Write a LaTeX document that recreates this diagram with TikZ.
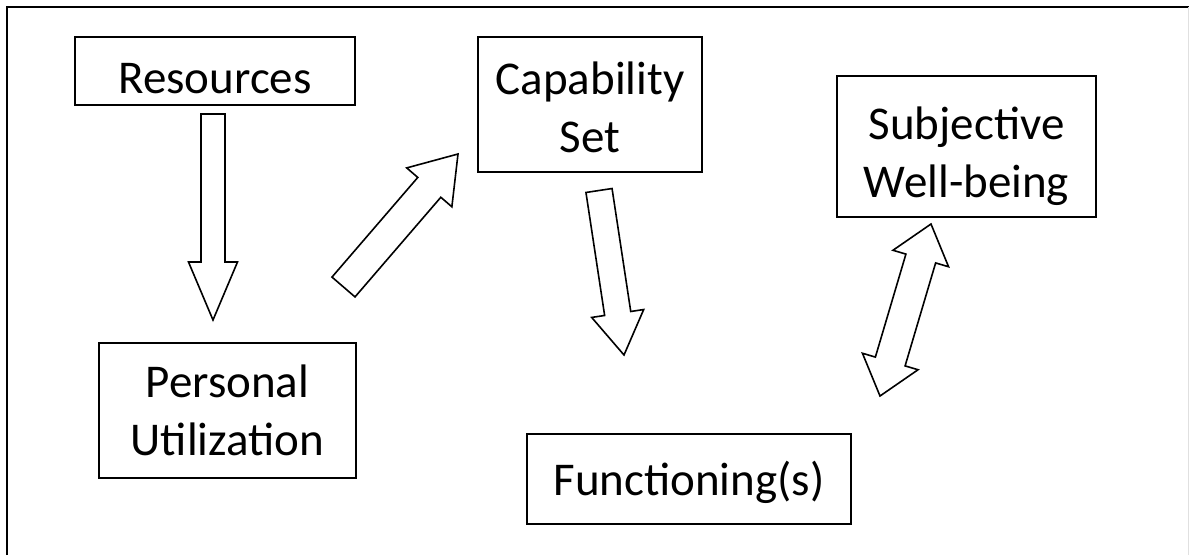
\documentclass[tikz,border=0pt]{standalone}
\usepackage{fontspec}
\setmainfont{Carlito}
\usetikzlibrary{calc}

% Hollow block arrow from tail centre #1 to tip #2:
% shaft half-width #3, head half-width #4, head length #5
\newcommand\hollowarrow[5]{%
  \coordinate (#1-hb) at ($(#2)!#5!(#1)$);
  \draw[blockline]
    ($(#1)!#3!90:(#2)$) -- ($(#1-hb)!#3!90:(#2)$) -- ($(#1-hb)!#4!90:(#2)$)
    -- (#2) -- ($(#1-hb)!#4!-90:(#2)$) -- ($(#1-hb)!#3!-90:(#2)$)
    -- ($(#1)!#3!-90:(#2)$) -- cycle;}

% Hollow double-headed block arrow between tips #1 and #2
\newcommand\hollowdoublearrow[5]{%
  \coordinate (#1-ha) at ($(#1)!#5!(#2)$);
  \coordinate (#1-hb) at ($(#2)!#5!(#1)$);
  \draw[blockline]
    (#1) -- ($(#1-ha)!#4!90:(#2)$) -- ($(#1-ha)!#3!90:(#2)$)
    -- ($(#1-hb)!#3!90:(#2)$) -- ($(#1-hb)!#4!90:(#2)$) -- (#2)
    -- ($(#1-hb)!#4!-90:(#2)$) -- ($(#1-hb)!#3!-90:(#2)$)
    -- ($(#1-ha)!#3!-90:(#2)$) -- ($(#1-ha)!#4!-90:(#2)$) -- cycle;}

\begin{document}
\begin{tikzpicture}[x=1pt,y=-1pt,
  box/.style={draw, line width=1.6pt, inner sep=0pt},
  boxtext/.style={inner sep=0pt, align=center,
    font=\fontsize{47}{58}\selectfont},
  blockline/.style={draw, line width=1.6pt, line join=miter, fill=white},
  frameline/.style={line width=2pt}]
\useasboundingbox (0,0) rectangle (1189,555);

% outer frame
\draw[frameline] (7,555) -- (7,7) -- (1189,7);
\draw[black!12, line width=1pt] (1188,7) -- (1188,555);

% boxes
\node[box, minimum width=280pt, minimum height=68pt]  (res) at (215,71)      {};
\node[box, minimum width=224pt, minimum height=135pt] (cap) at (590,104.5)   {};
\node[box, minimum width=259pt, minimum height=141pt] (swb) at (966.5,146.5) {};
\node[box, minimum width=257pt, minimum height=135pt] (pu)  at (227.5,410.5) {};
\node[box, minimum width=324pt, minimum height=90pt]  (fun) at (689,479)     {};

% box captions
\node[boxtext] (res-t) at ($(res.center)+(0,8)$)  {Resources};
\node[boxtext] (cap-t) at ($(cap.center)+(0,3)$)  {Capability\\Set};
\node[boxtext] (swb-t) at ($(swb.center)+(0,10)$) {Subjective\\Well-being};
\node[boxtext] (pu-t)  at ($(pu.center)+(0,0)$)   {Personal\\Utilization};
\node[boxtext] (fun-t) at ($(fun.center)+(0,3)$)  {Functioning(s)};

% arrow end points
\coordinate (resout) at (213,114);
\coordinate (puin)   at (213,320);
\coordinate (puout)  at (343.5,287);
\coordinate (capin)  at (458,154);
\coordinate (capout) at (599,190.5);
\coordinate (funin)  at (624,355);
\coordinate (swbend) at (931,224);
\coordinate (funend) at (880,396);

% block arrows
\hollowarrow{resout}{puin}{12pt}{24.5pt}{58pt}
\hollowarrow{puout}{capin}{15.2pt}{29.8pt}{44pt}
\hollowarrow{capout}{funin}{13.2pt}{26.3pt}{42pt}
\hollowdoublearrow{swbend}{funend}{15.5pt}{29pt}{36pt}
\end{tikzpicture}
\end{document}
